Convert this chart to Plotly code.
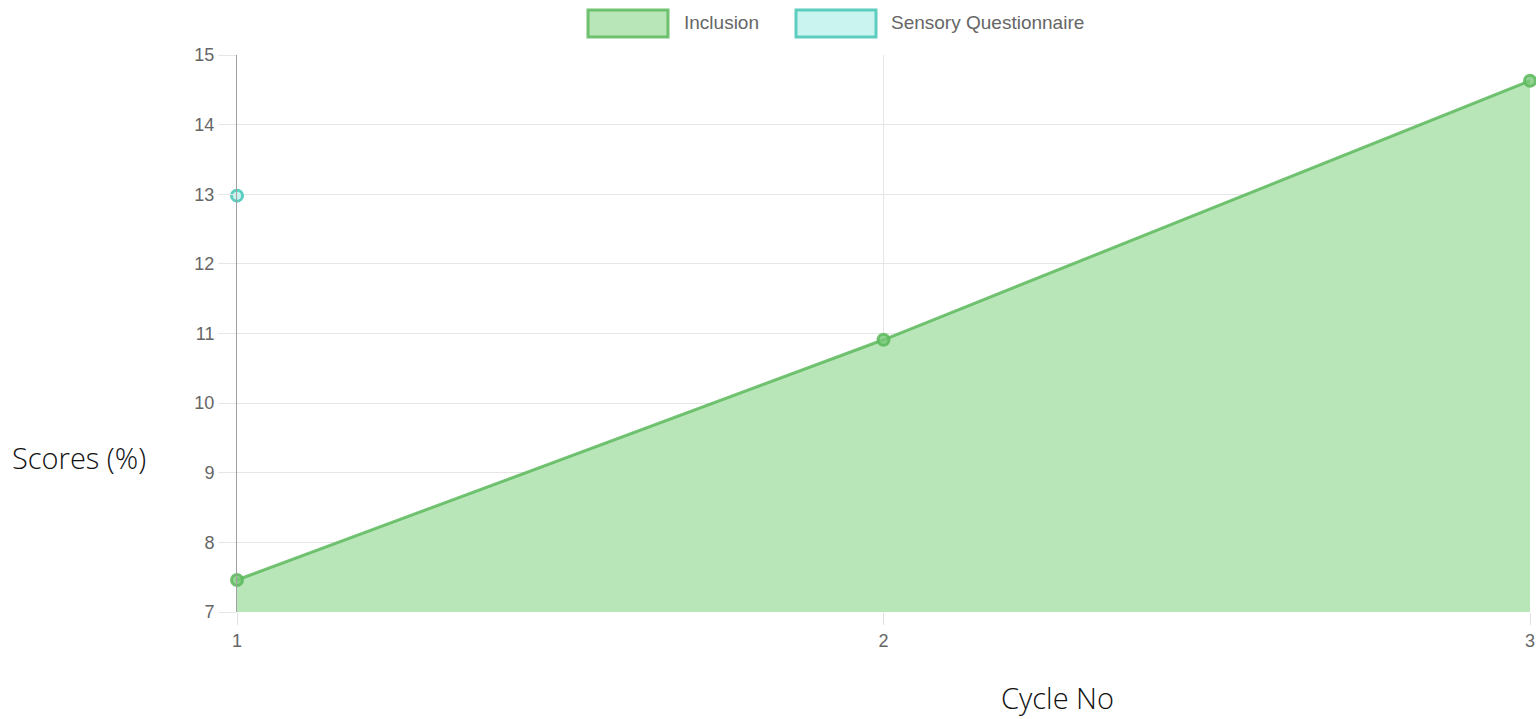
import plotly.graph_objects as go

cycles = [1, 2, 3]
inclusion = [7.46, 10.91, 14.63]
sensory_x = [1]
sensory = [12.98]
y_ticks = [7, 8, 9, 10, 11, 12, 13, 14, 15]

green_line = "rgba(92,184,92,0.85)"
green_fill = "rgba(184,230,184,1)"
teal_line = "rgba(92,205,190,1)"
teal_fill = "rgba(201,244,239,1)"

W, H = 1536, 719
L, R, T, B = 237, 6, 55, 107
PW, PH = W - L - R, H - T - B


def px(x):
    return (x - L) / PW


def py(y):
    return (H - B - y) / PH


fig = go.Figure()
fig.add_trace(go.Scatter(
    x=cycles, y=inclusion, mode="lines+markers", name="Inclusion",
    fill="tozeroy", fillcolor=green_fill,
    line=dict(color=green_line, width=3),
    marker=dict(size=11, color="rgba(120,200,120,0.8)", line=dict(color=green_line, width=3)),
    cliponaxis=False, showlegend=False,
))
fig.add_trace(go.Scatter(
    x=sensory_x, y=sensory, mode="markers", name="Sensory Questionnaire",
    marker=dict(size=11, color=teal_fill, line=dict(color=teal_line, width=3)),
    cliponaxis=False, showlegend=False,
))

# chart.js-like legend
legend_items = [("Inclusion", green_fill, green_line, 588, 668, 682),
                ("Sensory Questionnaire", teal_fill, teal_line, 796, 876, 889)]
for name, fc, lc, x0, x1, tx in legend_items:
    fig.add_shape(type="rect", xref="paper", yref="paper", x0=px(x0), x1=px(x1),
                  y0=py(37), y1=py(10),
                  fillcolor=fc, line=dict(color=lc, width=3), layer="above")
    fig.add_annotation(xref="paper", yref="paper", x=px(tx), y=py(22),
                       text=name, showarrow=False, xanchor="left", yanchor="middle",
                       font=dict(family="Liberation Sans, Arial", size=19, color="#666"))

fig.add_annotation(xref="paper", yref="paper", x=px(10), y=py(457),
                   text="Scores (%)", showarrow=False, xanchor="left", yanchor="middle",
                   font=dict(family="Open Sans", size=29, color="#111", weight=300))
fig.add_annotation(xref="paper", yref="paper", x=px(1057), y=py(697),
                   text="Cycle No", showarrow=False, xanchor="center", yanchor="middle",
                   font=dict(family="Open Sans", size=29, color="#111", weight=300))

fig.update_layout(
    width=W, height=H, autosize=False,
    margin=dict(l=L, r=R, t=T, b=B, autoexpand=False),
    plot_bgcolor="white", paper_bgcolor="white",
    showlegend=False,
)
fig.update_xaxes(
    range=[1, 3], tickvals=cycles, ticktext=[str(c) for c in cycles],
    showgrid=True, gridcolor="#e6e6e6", gridwidth=1,
    ticks="outside", ticklen=12, tickcolor="#e0e0e0",
    tickfont=dict(family="Liberation Sans, Arial", size=18, color="#666"),
    zeroline=False, showline=False, automargin=False,
)
fig.update_yaxes(
    range=[7, 15], tickvals=y_ticks,
    showgrid=True, gridcolor="#e6e6e6", gridwidth=1,
    ticks="outside", ticklen=18, tickcolor="#e6e6e6",
    tickfont=dict(family="Liberation Sans, Arial", size=18, color="#666"),
    zeroline=False, showline=True, linecolor="#a0a0a0", linewidth=1, automargin=False,
)

fig.write_html("out.html", config={"displayModeBar": False},
               post_script="document.body.style.margin='0';document.body.style.overflow='hidden';")
